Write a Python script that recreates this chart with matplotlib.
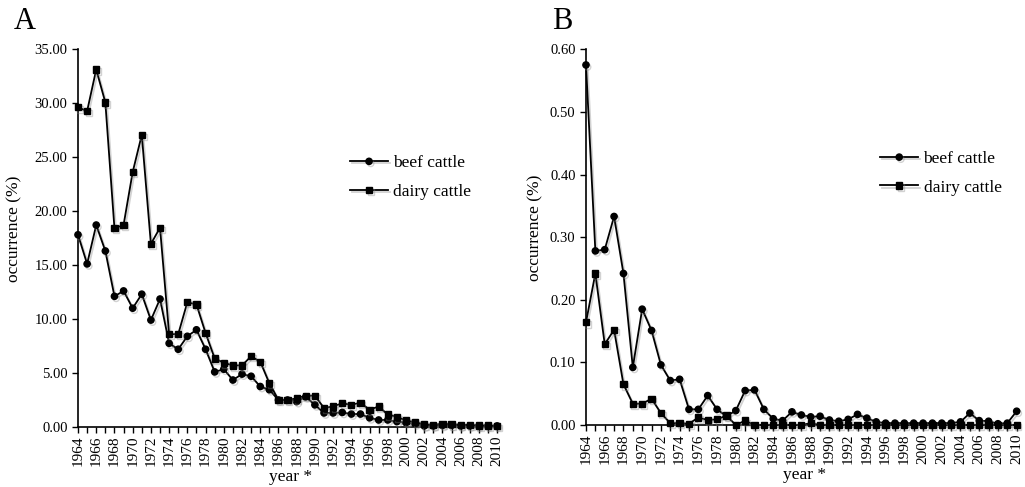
import matplotlib
matplotlib.use("Agg")
import matplotlib.pyplot as plt
import matplotlib.patheffects as pe
from matplotlib.ticker import FormatStrFormatter

plt.rcParams['font.family'] = ['Liberation Serif', 'DejaVu Serif']

years = list(range(1964, 2011))

# panel A, occurrence (%)
beef_a = [17.8, 15.1, 18.7, 16.3, 12.1, 12.6, 11.0, 12.3, 9.9, 11.85,
          7.75, 7.2, 8.4, 9.0, 7.2, 5.1, 5.35, 4.35, 4.9, 4.7,
          3.75, 3.45, 2.5, 2.5, 2.35, 2.8, 2.05, 1.3, 1.3, 1.35,
          1.2, 1.2, 0.85, 0.65, 0.65, 0.5, 0.4, 0.3, 0.1, 0.1,
          0.15, 0.15, 0.1, 0.1, 0.1, 0.1, 0.1]
dairy_a = [29.6, 29.25, 33.1, 30.05, 18.4, 18.7, 23.6, 27.05, 16.95, 18.45,
           8.6, 8.6, 11.55, 11.35, 8.7, 6.35, 5.95, 5.7, 5.7, 6.55,
           6.05, 4.05, 2.5, 2.5, 2.65, 2.9, 2.9, 1.75, 1.9, 2.2,
           2.05, 2.25, 1.6, 1.9, 1.15, 0.95, 0.6, 0.45, 0.25, 0.2,
           0.3, 0.25, 0.2, 0.2, 0.15, 0.15, 0.1]

# panel B, occurrence (%)
beef_b = [0.575, 0.278, 0.280, 0.333, 0.242, 0.092, 0.185, 0.151, 0.096, 0.071,
          0.073, 0.025, 0.025, 0.047, 0.025, 0.014, 0.023, 0.055, 0.056, 0.025,
          0.010, 0.007, 0.021, 0.016, 0.013, 0.014, 0.008, 0.006, 0.009, 0.017,
          0.011, 0.005, 0.003, 0.003, 0.003, 0.003, 0.003, 0.003, 0.003, 0.003,
          0.005, 0.019, 0.007, 0.006, 0.002, 0.003, 0.022]
dairy_b = [0.164, 0.242, 0.129, 0.152, 0.065, 0.034, 0.034, 0.042, 0.019, 0.003,
           0.003, 0.002, 0.012, 0.008, 0.009, 0.015, 0.0, 0.007, 0.0, 0.0,
           0.0, 0.0, 0.0, 0.0, 0.003, 0.0, 0.0, 0.0, 0.0, 0.0,
           0.0, 0.0, 0.0, 0.0, 0.0, 0.0, 0.0, 0.0, 0.0, 0.0,
           0.0, 0.0, 0.0, 0.0, 0.0, 0.0, 0.0]

year_labels = [str(y) if y % 2 == 0 else '' for y in years]

fig = plt.figure(figsize=(10.25, 4.87), dpi=100)
ax_a = fig.add_axes([0.0761, 0.1232, 0.4107, 0.7762])
ax_b = fig.add_axes([0.5717, 0.1273, 0.4220, 0.7715])

shadow = [pe.SimpleLineShadow(offset=(1.2, -1.5), shadow_color='0.5', alpha=0.35), pe.Normal()]


def draw_panel(ax, beef, dairy, ymax, ystep, legend_x, legend_y, ylab_x):
    ax.plot(years, beef, color='black', lw=1.3, marker='o', ms=4.5,
            label='beef cattle', clip_on=False, path_effects=shadow, zorder=3)
    ax.plot(years, dairy, color='black', lw=1.3, marker='s', ms=4.5,
            label='dairy cattle', clip_on=False, path_effects=shadow, zorder=3)
    ax.set_xlim(1964, 2010.2)
    ax.set_ylim(0, ymax)
    ax.set_xticks(years)
    ax.set_xticklabels(year_labels, rotation=90, fontsize=11)
    n = int(round(ymax / ystep))
    ax.set_yticks([i * ystep for i in range(n + 1)])
    ax.yaxis.set_major_formatter(FormatStrFormatter('%.2f'))
    ax.tick_params(axis='y', labelsize=10.5, direction='out', length=4, width=1)
    ax.tick_params(axis='x', direction='out', length=4, width=1, pad=2)
    for s in ['top', 'right']:
        ax.spines[s].set_visible(False)
    for s in ['left', 'bottom']:
        ax.spines[s].set_linewidth(1.2)
    ax.set_ylabel('occurrence (%)', fontsize=12.5)
    ax.yaxis.set_label_coords(ylab_x, 0.525)
    ax.set_xlabel('year *', fontsize=12.5)
    ax.xaxis.set_label_coords(0.505, -0.112)
    ax.legend(loc='center left', bbox_to_anchor=(legend_x, legend_y), frameon=False,
              fontsize=12.5, handlelength=2.2, handletextpad=0.3, labelspacing=0.7,
              borderpad=0, borderaxespad=0)


draw_panel(ax_a, beef_a, dairy_a, 35, 5, 0.646, 0.66, -0.133)
draw_panel(ax_b, beef_b, dairy_b, 0.6, 0.1, 0.68, 0.67, -0.099)

fig.text(0.013, 0.985, 'A', fontsize=22, va='top', ha='left')
fig.text(0.5385, 0.985, 'B', fontsize=22, va='top', ha='left')

fig.savefig('out.png', dpi=100)
